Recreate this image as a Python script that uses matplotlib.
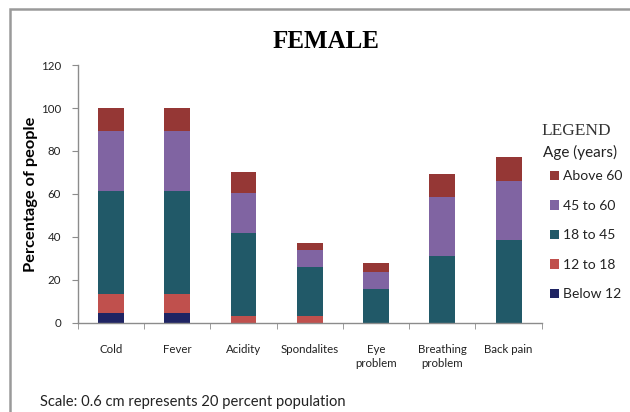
import matplotlib.pyplot as plt
from matplotlib.patches import Rectangle
import numpy as np

# Percentage of female respondents per ailment, split by age group
ailments = ['Cold', 'Fever', 'Acidity', 'Spondalites', 'Eye\nproblem',
            'Breathing\nproblem', 'Back pain']
age_groups = ['Below 12', '12 to 18', '18 to 45', '45 to 60', 'Above 60']
below_12 = [4.5, 4.5, 0, 0, 0, 0, 0]
age_12_18 = [9, 9, 3, 3, 0, 0, 0]
age_18_45 = [48, 48, 39, 23, 15.5, 31, 38.5]
age_45_60 = [28, 28, 18.5, 8, 8, 27.5, 27.5]
above_60 = [10.5, 10.5, 9.5, 3, 4.5, 11, 11]

colors = ['#1f2463', '#c0504d', '#215968', '#8064a2', '#953735']

plt.rcParams['font.family'] = ['Lato', 'DejaVu Sans']

fig = plt.figure(figsize=(6.3, 4.12), dpi=100)
ax = fig.add_axes([0.1233, 0.2167, 0.7367, 0.6253])

# outer chart frame (only its top and left edges fall inside the image)
fig.patches.append(Rectangle((10 / 630, -0.1), 1.2, 1 - 9 / 412 + 0.1,
                             transform=fig.transFigure, fill=False,
                             edgecolor='#9a9a9a', linewidth=1.8))

x = np.arange(len(ailments))
series = [below_12, age_12_18, age_18_45, age_45_60, above_60]
bottom = np.zeros(len(ailments))
handles = []
for vals, col, lab in zip(series, colors, age_groups):
    b = ax.bar(x, vals, width=0.39, bottom=bottom, color=col, label=lab)
    handles.append(b)
    bottom += np.array(vals)

ax.set_xlim(-0.5, len(ailments) - 0.5)
ax.set_ylim(0, 120)
ax.set_yticks(range(0, 121, 20))
ax.set_xticks(x)
ax.set_xticklabels(ailments, fontsize=8.3, color='#222222', linespacing=1.35)
ax.set_xticks(np.arange(-0.5, len(ailments), 1), minor=True)
ax.tick_params(axis='x', which='major', length=0, pad=15)
ax.tick_params(axis='x', which='minor', length=4, color='#8c8c8c', direction='out')
ax.tick_params(axis='y', length=4, color='#8c8c8c', labelsize=8.3,
               labelcolor='#222222', pad=8)
for side in ['top', 'right']:
    ax.spines[side].set_visible(False)
for side in ['left', 'bottom']:
    ax.spines[side].set_color('#8c8c8c')
    ax.spines[side].set_linewidth(1.0)

ax.set_ylabel('Percentage of people', fontsize=11.8, fontweight='bold', labelpad=2)

fig.text(0.518, 0.900, 'FEMALE', fontsize=18, fontweight='bold',
         family='Liberation Serif', ha='center', va='center')

# legend block on the right
fig.text(0.914, 0.683, 'LEGEND', fontsize=12.5, family='Liberation Serif',
         ha='center', va='center', color='#333333')
fig.text(0.921, 0.631, 'Age (years)', fontsize=11, ha='center', va='center',
         color='#222222')
leg = fig.legend(handles[::-1], age_groups[::-1], loc='upper left',
                 bbox_to_anchor=(0.853, 0.617), frameon=False, fontsize=10,
                 handlelength=0.65, handleheight=0.65, handletextpad=0.3,
                 labelspacing=1.26, labelcolor='#222222')

fig.text(0.063, 0.024, 'Scale: 0.6 cm represents 20 percent population',
         fontsize=10.6, color='#222222', va='center')

fig.savefig('out.png', dpi=100)
